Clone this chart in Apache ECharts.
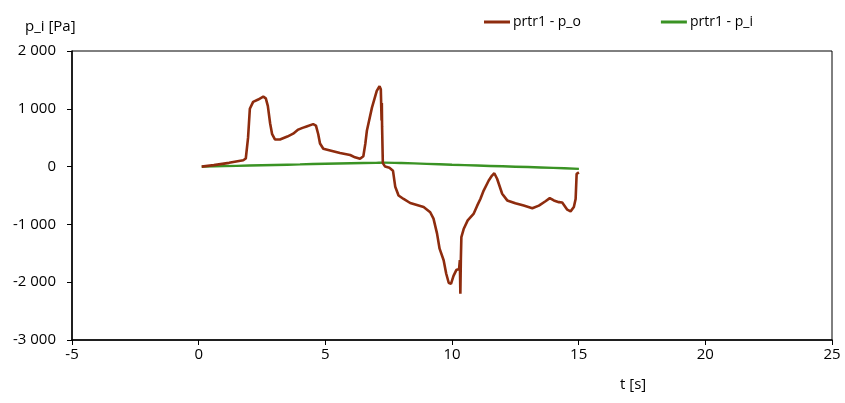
<!DOCTYPE html>
<html>
<head>
<meta charset="utf-8">
<script src="https://cdn.jsdelivr.net/npm/echarts@6/dist/echarts.min.js"></script>
<style>
  html, body { margin: 0; padding: 0; background: #fff; }
  #chart { width: 845px; height: 403px; }
</style>
</head>
<body>
<div id="chart"></div>
<script>
// Time axis ticks and value axis ticks
const xTicks = [-5, 0, 5, 10, 15, 20, 25];
const yTicks = [-3000, -2000, -1000, 0, 1000, 2000];

// Outlet pressure p_o over time
const tPo = [0.12, 0.6, 1.2, 1.76, 1.86, 1.95, 2.02, 2.15, 2.35, 2.55, 2.65, 2.73, 2.82, 2.9, 3.01, 3.21, 3.5, 3.73, 3.93, 4.1,
  4.26, 4.52, 4.63, 4.72, 4.79, 4.92, 5.19, 5.58, 5.98, 6.17, 6.37, 6.5, 6.58, 6.64, 6.84, 7.03, 7.14, 7.19, 7.22, 7.23,
  7.24, 7.27, 7.36, 7.53, 7.67, 7.76, 7.89, 8.09, 8.35, 8.88, 9.14, 9.27, 9.41, 9.51, 9.67, 9.77, 9.87, 9.96, 10.06, 10.17,
  10.28, 10.31, 10.33, 10.35, 10.37, 10.46, 10.62, 10.85, 10.99, 11.12, 11.25, 11.45, 11.58, 11.67, 11.78, 11.98, 12.18, 12.5, 12.83, 13.17,
  13.43, 13.69, 13.86, 14.02, 14.22, 14.35, 14.55, 14.68, 14.81, 14.88, 14.92, 15.01];
const vPo = [0, 25, 65, 110, 140, 500, 1000, 1120, 1160, 1210, 1180, 1050, 750, 560, 470, 470, 520, 570, 640, 670,
  695, 735, 710, 560, 400, 310, 280, 235, 200, 160, 135, 180, 400, 620, 1020, 1310, 1390, 1340, 800, 1100,
  700, 60, 0, -20, -70, -350, -500, -560, -630, -700, -790, -900, -1160, -1420, -1620, -1850, -2010, -2030, -1890, -1790,
  -1770, -1620, -2200, -1600, -1220, -1080, -930, -820, -680, -560, -415, -240, -155, -115, -210, -470, -585, -635, -675, -720,
  -675, -600, -545, -585, -615, -620, -745, -775, -700, -560, -125, -100];

// Inlet pressure p_i over time
const tPi = [0.12, 1, 2, 3, 4, 5, 6, 7, 7.3, 8, 9, 10, 11, 12, 13, 14, 15.01];
const vPi = [0, 8, 18, 28, 38, 50, 58, 65, 68, 62, 48, 32, 18, 5, -8, -22, -40];

const seriesNames = ['prtr1 - p_o', 'prtr1 - p_i'];
const seriesColors = ['#8E2C0E', '#3A9324'];

const zip = (a, b) => a.map((v, i) => [v, b[i]]);
// thousands separated by a space, e.g. "-1 000"
const fmt = v => {
  const s = Math.abs(v).toString().replace(/\B(?=(\d{3})+(?!\d))/g, ' ');
  return (v < 0 ? '-' : '') + s;
};

const font = '"Open Sans", sans-serif';
const chart = echarts.init(document.getElementById('chart'), null, { renderer: 'canvas' });

chart.setOption({
  animation: false,
  backgroundColor: '#fff',
  textStyle: { fontFamily: font },
  grid: {
    left: 72, right: 13, top: 51, bottom: 63,
    show: true, borderColor: '#000', borderWidth: 1, backgroundColor: 'transparent'
  },
  legend: {
    top: 10, left: 479,
    itemGap: 80,
    itemWidth: 26, itemHeight: 3,
    icon: 'rect',
    textStyle: { fontFamily: font, fontSize: 14, color: '#000', padding: [0, 0, 0, -2] },
    data: seriesNames
  },
  xAxis: {
    type: 'value',
    min: xTicks[0], max: xTicks[xTicks.length - 1], interval: 5,
    axisLine: { onZero: false, lineStyle: { color: '#000', width: 1.5 } },
    axisTick: { show: true, length: 5, lineStyle: { color: '#000', width: 1 } },
    axisLabel: { color: '#000', fontSize: 15, margin: 7, fontFamily: font },
    splitLine: { show: false }
  },
  yAxis: {
    type: 'value',
    min: yTicks[0], max: yTicks[yTicks.length - 1], interval: 1000,
    axisLine: { show: true, onZero: false, lineStyle: { color: '#000', width: 1.5 } },
    axisTick: { show: true, length: 5, lineStyle: { color: '#000', width: 1 } },
    axisLabel: { color: '#000', fontSize: 15, margin: 16, fontFamily: font, formatter: fmt },
    splitLine: { show: false }
  },
  graphic: [
    { type: 'text', left: 25, top: 19, style: { text: 'p_i [Pa]', fontSize: 15, fontFamily: font, fill: '#000' } },
    { type: 'text', left: 620, top: 377, style: { text: 't [s]', fontSize: 15, fontFamily: font, fill: '#000' } }
  ],
  series: [
    {
      name: seriesNames[0], type: 'line', data: zip(tPo, vPo),
      showSymbol: false, symbol: 'none',
      lineStyle: { color: seriesColors[0], width: 2.6 },
      itemStyle: { color: seriesColors[0] }, z: 3
    },
    {
      name: seriesNames[1], type: 'line', data: zip(tPi, vPi),
      showSymbol: false, symbol: 'none', smooth: 0.3,
      lineStyle: { color: seriesColors[1], width: 2.4 },
      itemStyle: { color: seriesColors[1] }, z: 2
    }
  ]
});
</script>
</body>
</html>
